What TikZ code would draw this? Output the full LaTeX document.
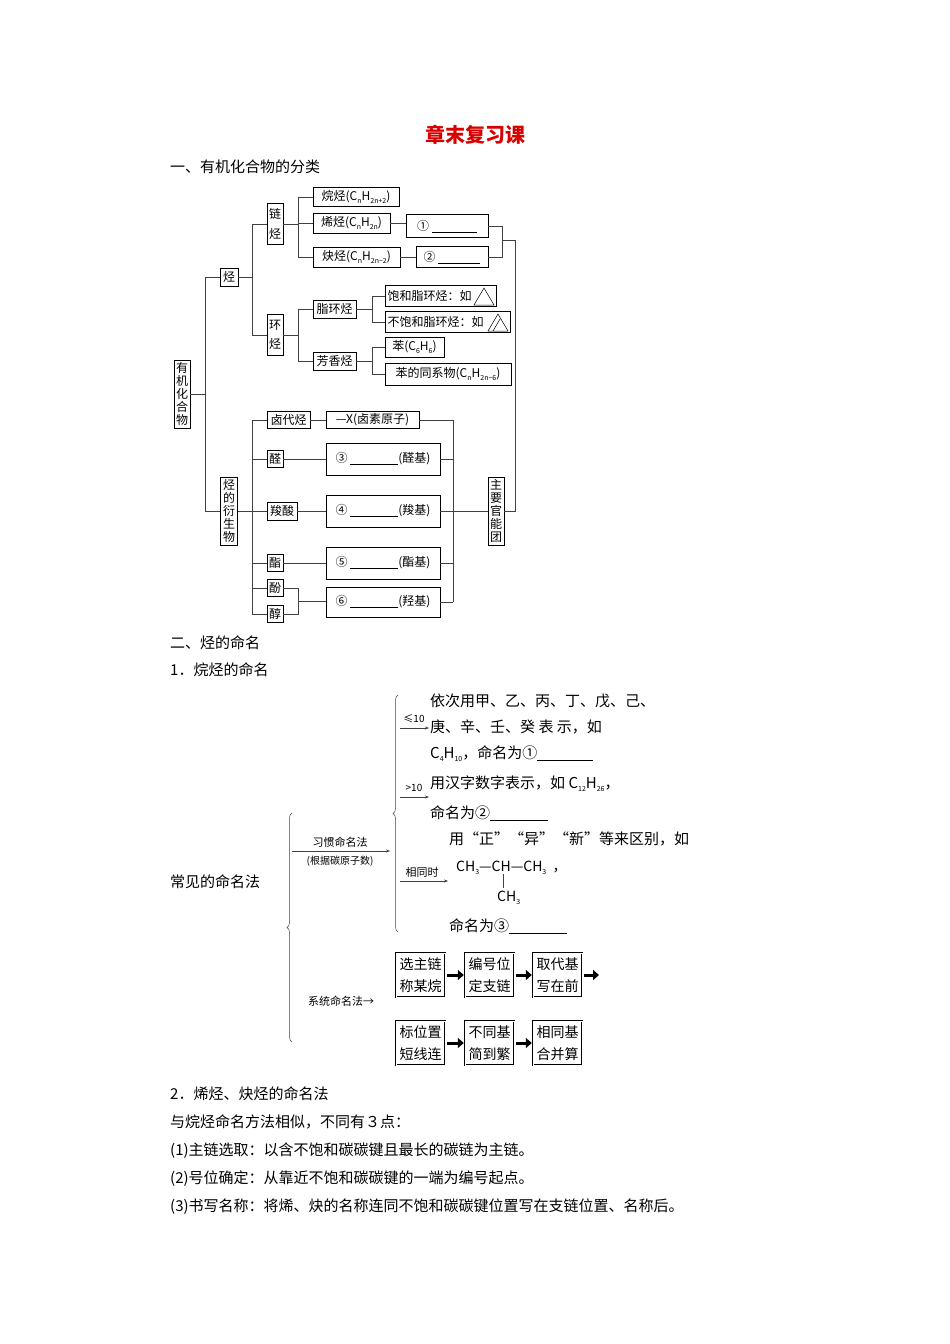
\documentclass[tikz,border=0pt]{standalone}
\usepackage{fontspec}
\setmainfont{Noto Sans CJK SC}
\usetikzlibrary{decorations.pathreplacing,arrows.meta}
\newcommand\fs[1]{\fontsize{#1}{#1}\selectfont}
\newcommand\sbs[1]{\raisebox{-0.45ex}{\fontsize{7}{7}\selectfont #1}}
\newcommand\blank[1]{\rule[-2pt]{#1pt}{0.5pt}}
\begin{document}
\begin{tikzpicture}[x=1pt,y=-1pt,
  bx/.style={draw, inner sep=1pt, font=\fs{12}, line width=0.6pt},
  vbx/.style={draw, inner sep=1pt, font=\fontsize{12}{13.2}\selectfont, align=center, line width=0.6pt},
  ln/.style={line width=0.5pt, draw=black!75},
  tx/.style={anchor=base west, inner sep=0pt, font=\fs{15}},
  sbx/.style={draw, double, double distance=0.8pt, align=center, font=\fontsize{14}{16}\selectfont, minimum width=49pt, minimum height=44pt, inner sep=1pt},
  fat/.style={line width=3pt,-{Triangle[length=6pt,width=10pt]}}]
\useasboundingbox (0,0) rectangle (950,1344);
\node[font=\fs{20}\bfseries, text=red!85!black] (title) at (475,135) {章末复习课};
\node[tx] (h1) at (170,172) {一、有机化合物的分类};
% --- tree
\node[vbx, minimum width=16, minimum height=68] (org) at (182,394) {有\\机\\化\\合\\物};
\node[bx, minimum width=18, minimum height=18] (hc) at (229,277) {烃};
\node[vbx, minimum width=17, minimum height=68] (der) at (229,511) {烃\\的\\衍\\生\\物};
\node[vbx, minimum width=16, minimum height=41] (chain) at (275,224) {链\\[6pt]烃};
\node[vbx, minimum width=16, minimum height=41] (ring) at (275,335) {环\\[6pt]烃};
\node[bx, minimum width=86, minimum height=19] (alk) at (356,197) {烷烃(C\sbs{n}H\sbs{2n+2})};
\node[bx, minimum width=77, minimum height=20] (ene) at (351.5,223) {烯烃(C\sbs{n}H\sbs{2n})};
\node[bx, minimum width=87, minimum height=20] (yne) at (356.5,257) {炔烃(C\sbs{n}H\sbs{2n−2})};
\node[bx, minimum width=82, minimum height=23] (b1) at (447,226) {①\ \blank{45}};
\node[bx, minimum width=72, minimum height=21] (b2) at (452,257) {②\ \blank{42}};
\node[bx, minimum width=43, minimum height=18] (alicyc) at (334.5,309) {脂环烃};
\node[bx, minimum width=43, minimum height=18] (arom) at (334.5,361) {芳香烃};
\node[bx, minimum width=111, minimum height=21, text width=106, align=left] (sat) at (440.5,296) {饱和脂环烃：如};
\node[bx, minimum width=125, minimum height=21, text width=120, align=left] (unsat) at (447.5,322) {不饱和脂环烃：如};
\draw[line width=0.5pt] (474,305)--(484,288)--(494,305)--cycle;
\draw[line width=0.5pt] (488,331)--(498,314)--(508,331)--cycle (493,331)--(500,319);
\node[bx, minimum width=59, minimum height=20] (benz) at (414.5,347) {苯(C\sbs{6}H\sbs{6})};
\node[bx, minimum width=126, minimum height=22] (homo) at (448,374) {苯的同系物(C\sbs{n}H\sbs{2n−6})};
\node[bx, minimum width=43, minimum height=17] (hal) at (288.5,420) {卤代烃};
\node[bx, minimum width=16, minimum height=17] (ald) at (275,459) {醛};
\node[bx, minimum width=30, minimum height=18] (acid) at (282,511) {羧酸};
\node[bx, minimum width=16, minimum height=17] (ester) at (275,563) {酯};
\node[bx, minimum width=16, minimum height=17] (phen) at (275,588) {酚};
\node[bx, minimum width=16, minimum height=17] (alc) at (275,614) {醇};
\node[bx, minimum width=93, minimum height=17] (X) at (372.5,420) {—X(卤素原子)};
\node[bx, minimum width=114, minimum height=32] (b3) at (383,459) {③\ \blank{48}(醛基)};
\node[bx, minimum width=114, minimum height=32] (b4) at (383,511) {④\ \blank{48}(羧基)};
\node[bx, minimum width=114, minimum height=32] (b5) at (383,563) {⑤\ \blank{48}(酯基)};
\node[bx, minimum width=114, minimum height=30] (b6) at (383,602) {⑥\ \blank{48}(羟基)};
\node[vbx, minimum width=16, minimum height=68] (main) at (496,511) {主\\要\\官\\能\\团};
\begin{scope}[ln]
\draw (org.east)--(205,394) (205,277)--(205,511);
\draw (205,277)--(hc.west) (205,511)--(der.west);
\draw (hc.east)--(252,277) (252,224)--(252,335) (252,224)--(chain.west) (252,335)--(ring.west);
\draw (chain.east)--(298,224) (298,197)--(298,257) (298,197)--(alk.west) (298,223)--(ene.west) (298,257)--(yne.west);
\draw (ene.east)--(b1.west |- ene.east) (yne.east)--(b2.west);
\draw (b1.east)--(502,226)--(502,257)--(b2.east) (502,240)--(515,240)--(515,511)--(main.east);
\draw (ring.east)--(298,335) (298,309)--(298,361) (298,309)--(alicyc.west) (298,361)--(arom.west);
\draw (alicyc.east)--(372,309) (372,296)--(372,322) (372,296)--(sat.west) (372,322)--(unsat.west);
\draw (arom.east)--(372,361) (372,347)--(372,374) (372,347)--(benz.west) (372,374)--(homo.west);
\draw (der.east)--(252,511) (252,420)--(252,614);
\foreach \n in {hal,ald,acid,ester,phen,alc} \draw (252,0 |- \n.west)--(\n.west);
\draw (hal)--(X) (ald)--(b3) (acid)--(b4) (ester)--(b5);
\draw (phen.east)--(298,588)--(298,614)--(alc.east) (298,601)--(b6.west |- 298,601);
\draw (X.east)--(453,420) (b3.east)--(453,459) (b4.east)--(453,511) (b5.east)--(453,563) (b6.east)--(453,602) (453,420)--(453,602) (453,511)--(main.west);
\end{scope}
% --- section 2
\node[tx] (h2) at (170,648) {二、烃的命名};
\node[tx] (h3) at (170,675) {1．烷烃的命名};
\node[tx] (common) at (170,887) {常见的命名法};
\draw[ln, decorate, decoration={brace, amplitude=5pt}] (292,1042)--(292,813);
\node[font=\fs{11}] (hab) at (340,842) {习惯命名法};
\node[font=\fs{10}] (habn) at (340,861) {(根据碳原子数)};
\coordinate (ha1) at (292,851); \coordinate (ha2) at (390,851);
\draw[ln,-{Stealth[length=4pt]}] (ha1)--(ha2);
\draw[ln, decorate, decoration={brace, amplitude=5pt}] (398,932)--(398,695);
\coordinate (l1a) at (400,728); \coordinate (l1b) at (429,728);
\draw[ln,-{Stealth[length=4pt]}] (l1a)--(l1b);
\node[font=\fs{10}, inner sep=0] (le) at (414,719) {≤10};
\node[tx] (t1) at (430,706) {依次用甲、乙、丙、丁、戊、己、};
\node[tx] (t2) at (430,732) {庚、辛、壬、癸\ 表\ 示，如};
\node[tx] (t3) at (430,758) {C\sbs{4}H\sbs{10}，命名为①\blank{56}};
\coordinate (l2a) at (400,797); \coordinate (l2b) at (429,797);
\draw[ln,-{Stealth[length=4pt]}] (l2a)--(l2b);
\node[font=\fs{10}, inner sep=0] (gt) at (414,788) {>10};
\node[tx] (t4) at (430,788) {用汉字数字表示，如 C\sbs{12}H\sbs{26}，};
\node[tx] (t5) at (430,818) {命名为②\blank{58}};
\node[tx] (t6) at (449,844) {用“正”“异”“新”等来区别，如};
\coordinate (l3a) at (400,881); \coordinate (l3b) at (448,881);
\draw[ln,-{Stealth[length=4pt]}] (l3a)--(l3b);
\node[font=\fs{11}, inner sep=0] (same) at (422,872) {相同时};
\node[tx, font=\fs{14}] (f1) at (456,871) {CH\sbs{3}—CH—CH\sbs{3}\ \ ，};
\draw[ln] (503,874)--(503,888);
\node[tx, font=\fs{14}] (f2) at (497,901) {CH\sbs{3}};
\node[tx] (t7) at (449,931) {命名为③\blank{58}};
\node[font=\fs{11}, inner sep=0] (sys) at (341,1001) {系统命名法→};
\node[sbx] (s1) at (420.5,975) {选主链\\[6pt]称某烷};
\node[sbx] (s2) at (489.5,975) {编号位\\[6pt]定支链};
\node[sbx] (s3) at (557.5,975) {取代基\\[6pt]写在前};
\coordinate (s4) at (599,975);
\node[sbx] (s5) at (420.5,1043) {标位置\\[6pt]短线连};
\node[sbx] (s6) at (489.5,1043) {不同基\\[6pt]简到繁};
\node[sbx] (s7) at (557.5,1043) {相同基\\[6pt]合并算};
\draw[fat] ([xshift=2pt]s1.east)--([xshift=-1pt]s2.west);
\draw[fat] ([xshift=2pt]s2.east)--([xshift=-1pt]s3.west);
\draw[fat] ([xshift=2pt]s3.east)--(s4);
\draw[fat] ([xshift=2pt]s5.east)--([xshift=-1pt]s6.west);
\draw[fat] ([xshift=2pt]s6.east)--([xshift=-1pt]s7.west);
\node[tx] (p1) at (170,1099) {2．烯烃、炔烃的命名法};
\node[tx] (p2) at (170,1127) {与烷烃命名方法相似，不同有３点：};
\node[tx] (p3) at (170,1155) {(1)主链选取：以含不饱和碳碳键且最长的碳链为主链。};
\node[tx] (p4) at (170,1183) {(2)号位确定：从靠近不饱和碳碳键的一端为编号起点。};
\node[tx] (p5) at (170,1211) {(3)书写名称：将烯、炔的名称连同不饱和碳碳键位置写在支链位置、名称后。};
\end{tikzpicture}
\end{document}
